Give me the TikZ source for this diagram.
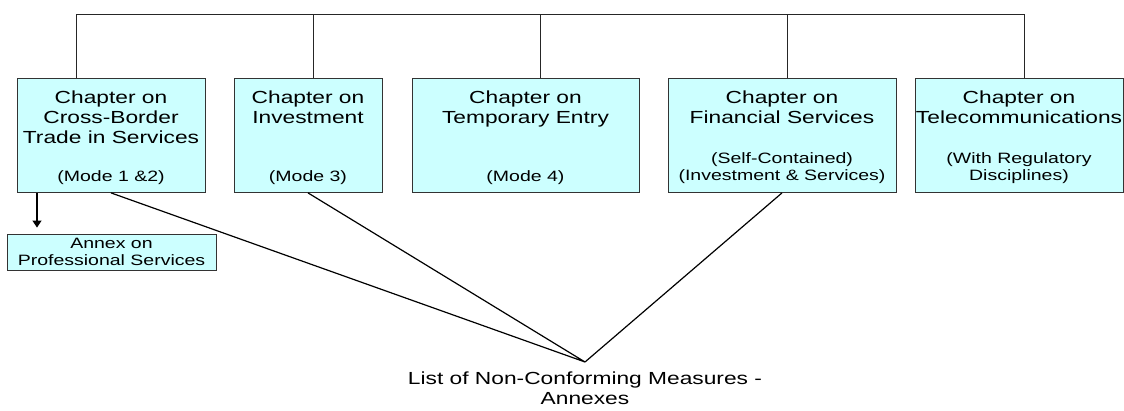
\documentclass[tikz,border=0pt]{standalone}
\usepackage{fontspec}
\setmainfont{Liberation Sans}[FakeStretch=1.3]
\usepackage{tikz}
\usetikzlibrary{arrows.meta}
\definecolor{boxcyan}{HTML}{CCFFFF}
\newcommand{\bigtxt}{\fontsize{17.5}{19.7}\selectfont}
\newcommand{\smtxt}{\fontsize{15}{19.7}\selectfont}
\newcommand{\chapbox}[2]{\parbox[t][89pt][t]{#1}{\centering\bigtxt #2}}

\begin{document}
\begin{tikzpicture}[x=1pt,y=-1pt,
		chap/.style={draw=black!80,fill=boxcyan,line width=0.9pt,inner xsep=0pt,inner ysep=12.5pt,anchor=north},
		annexbox/.style={draw=black!80,fill=boxcyan,line width=0.9pt,minimum width=209pt,minimum height=36pt,inner sep=0pt,align=center,font=\fontsize{15}{17}\selectfont},
		bus/.style={draw=black!85,line width=0.9pt},
		conn/.style={draw=black,line width=1.2pt}]
	\useasboundingbox (0,0) rectangle (1124,411);
	\node[chap] (cbt) at (111,78) {\chapbox{188pt}{Chapter on\\Cross-Border\\Trade in Services\\[18.3pt]\smtxt(Mode 1 \&2)}};
	\node[chap] (inv) at (308,78) {\chapbox{148pt}{Chapter on\\Investment\\[38.3pt]\smtxt(Mode 3)}};
	\node[chap] (tmp) at (525.5,78) {\chapbox{227pt}{Chapter on\\Temporary Entry\\[38.3pt]\smtxt(Mode 4)}};
	\node[chap] (fin) at (782,78) {\chapbox{228pt}{Chapter on\\Financial Services\\[20.3pt]\smtxt(Self-Contained)\\[-2.7pt](Investment \& Services)}};
	\node[chap] (tel) at (1019,78) {\chapbox{208pt}{Chapter on\\Telecommunications\\[20.3pt]\smtxt(With Regulatory\\[-2.7pt]Disciplines)}};
	\node[annexbox] (prof) at (111.5,252) {Annex on\\Professional Services};
	\node[anchor=north,align=center,inner sep=0pt,font=\bigtxt] (ncm) at (585,372) {List of Non-Conforming Measures -\\Annexes};
	\coordinate (tip) at (585,362);
	\coordinate (arr) at ([xshift=-74pt]cbt.south);
	% bus on top
	\draw[bus] ([xshift=-35pt,yshift=64pt]cbt.north) -- ([xshift=5pt,yshift=64pt]tel.north);
	\foreach \n/\dx in {cbt/-35,inv/5,tmp/14.5,fin/5,tel/5}
		\draw[bus] ([xshift=\dx pt]\n.north) -- ([xshift=\dx pt,yshift=64pt]\n.north);
	\draw[conn,-{Triangle[length=7pt,width=9pt]},shorten >=6pt] (arr) -- (arr |- prof.north);
	\draw[conn] (cbt.south) -- (tip) (inv.south) -- (tip) (fin.south) -- (tip);
\end{tikzpicture}
\end{document}
